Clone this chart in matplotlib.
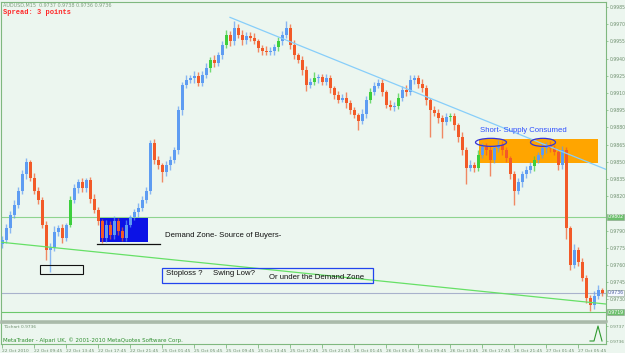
import matplotlib
matplotlib.use("Agg")
import matplotlib.pyplot as plt
from matplotlib.patches import Rectangle, Ellipse

# AUDUSD M15 closes (one value per 4 px column)
closes = [
    0.9782, 0.9792, 0.9804, 0.9812, 0.9825, 0.9839, 0.9850, 0.9836, 0.9825, 0.9817,
    0.9795, 0.9773, 0.9775, 0.9789, 0.9792, 0.9784, 0.9795, 0.9817, 0.9827, 0.9832,
    0.9827, 0.9834, 0.9818, 0.9808, 0.9798, 0.9784, 0.9795, 0.9786, 0.9798, 0.9790,
    0.9784, 0.9795, 0.9802, 0.9806, 0.9810, 0.9817, 0.9825, 0.9866, 0.9852, 0.9847,
    0.9841, 0.9847, 0.9852, 0.9860, 0.9895, 0.9917, 0.9921, 0.9923, 0.9925, 0.9919,
    0.9926, 0.9932, 0.9939, 0.9936, 0.9943, 0.9952, 0.9961, 0.9955, 0.9967, 0.9961,
    0.9956, 0.9960, 0.9958, 0.9955, 0.9949, 0.9947, 0.9946, 0.9947, 0.9950, 0.9955,
    0.9961, 0.9967, 0.9952, 0.9943, 0.9939, 0.9930, 0.9917, 0.9920, 0.9923, 0.9924,
    0.9920, 0.9923, 0.9914, 0.9908, 0.9904, 0.9906, 0.9901, 0.9895, 0.9891, 0.9886,
    0.9892, 0.9904, 0.9911, 0.9916, 0.9919, 0.9911, 0.9900, 0.9898, 0.9899, 0.9906,
    0.9913, 0.9911, 0.9921, 0.9923, 0.9918, 0.9914, 0.9904, 0.9895, 0.9893, 0.9888,
    0.9885, 0.9889, 0.9890, 0.9882, 0.9872, 0.9860, 0.9845, 0.9847, 0.9845, 0.9856,
    0.9863, 0.9860, 0.9852, 0.9862, 0.9865, 0.9860, 0.9853, 0.9839, 0.9825, 0.9832,
    0.9839, 0.9843, 0.9846, 0.9852, 0.9856, 0.9862, 0.9864, 0.9862, 0.9859, 0.9847,
    0.9860, 0.9792, 0.9760, 0.9773, 0.9763, 0.9749, 0.9731, 0.9725, 0.9733, 0.9738,
    0.9736,
]
first_open = 0.9778

# wick lengths in pips above / below the body
wick_up = [
    3, 4, 3, 5, 3, 4, 3, 2, 4, 3, 2, 3, 4, 5, 3, 4, 2, 3, 4, 3,
    4, 2, 3, 4, 3, 2, 4, 3, 5, 3, 3, 4, 2, 3, 4, 3, 3, 3, 4, 3,
    2, 4, 3, 3, 4, 3, 5, 3, 4, 3, 3, 4, 2, 4, 3, 3, 4, 3, 6, 3,
    4, 3, 3, 4, 2, 3, 4, 3, 3, 4, 3, 6, 3, 4, 2, 3, 4, 3, 5, 3,
    3, 4, 3, 2, 4, 3, 5, 3, 3, 2, 4, 3, 3, 4, 3, 3, 2, 4, 3, 4,
    3, 4, 5, 3, 3, 4, 3, 2, 4, 3, 3, 4, 3, 3, 2, 4, 3, 5, 3, 4,
    3, 3, 4, 3, 4, 3, 3, 2, 3, 4, 3, 3, 4, 3, 3, 4, 3, 4, 3, 2,
    4, 3, 2, 5, 3, 3, 2, 3, 4, 5, 2,
]
wick_dn = [
    3, 3, 4, 3, 2, 3, 4, 3, 3, 4, 3, 9, 19, 3, 4, 5, 3, 2, 3, 4,
    3, 3, 4, 3, 3, 5, 4, 3, 3, 4, 3, 3, 2, 3, 4, 3, 3, 3, 4, 3,
    9, 3, 4, 3, 3, 4, 3, 2, 4, 3, 3, 3, 4, 3, 2, 3, 3, 4, 3, 3,
    4, 3, 3, 2, 3, 4, 3, 3, 4, 3, 3, 3, 4, 3, 3, 4, 5, 3, 3, 4,
    3, 3, 4, 3, 3, 2, 4, 3, 3, 8, 3, 4, 3, 3, 2, 4, 3, 3, 4, 3,
    3, 4, 3, 3, 4, 3, 4, 23, 3, 4, 14, 3, 3, 4, 5, 4, 14, 3, 4, 3,
    3, 4, 14, 3, 3, 4, 3, 4, 13, 3, 4, 3, 3, 4, 3, 3, 4, 3, 3, 4,
    3, 9, 4, 3, 4, 3, 4, 5, 3, 3, 3,
]
green_bars = [17, 52, 56, 69, 78, 92, 99, 112, 119, 133]

time_labels = [
    "22 Oct 2010", "22 Oct 09:45", "22 Oct 13:45", "22 Oct 17:45", "22 Oct 21:45",
    "25 Oct 01:45", "25 Oct 05:45", "25 Oct 09:45", "25 Oct 13:45", "25 Oct 17:45",
    "25 Oct 21:45", "26 Oct 01:45", "26 Oct 05:45", "26 Oct 09:45", "26 Oct 13:45",
    "26 Oct 17:45", "26 Oct 21:45", "27 Oct 01:45", "27 Oct 05:45",
]
price_ticks = [0.9985, 0.9970, 0.9955, 0.9940, 0.9925, 0.9910, 0.9895, 0.9880, 0.9865,
               0.9850, 0.9835, 0.9820, 0.9790, 0.9775, 0.9760, 0.9745, 0.9730]

# T1chart sub window
t1_bars = [147, 148, 149, 150]
t1_values = [0.9736, 0.9736, 0.9737, 0.9736]

demand_level = 0.9802
bid_level = 0.9736
low_level = 0.9719

BG = "#ecf6ef"
FRAME = "#7fb87f"
W, H = 625, 353


def px_rect(x0, y0, x1, y1):
    return [x0 / W, 1 - y1 / H, (x1 - x0) / W, (y1 - y0) / H]


fig = plt.figure(figsize=(W / 100, H / 100), dpi=100)
fig.patch.set_facecolor(BG)
ax = fig.add_axes(px_rect(1, 2, 606, 321))
sub = fig.add_axes(px_rect(1, 323, 606, 344))
for a in (ax, sub):
    a.set_facecolor(BG)
    for s in a.spines.values():
        s.set_color(FRAME)
        s.set_linewidth(0.8)
ax.spines["bottom"].set_color("#a9b9a9")
ax.spines["bottom"].set_linewidth(1.8)
sub.spines["top"].set_color("#a9b9a9")
sub.spines["top"].set_linewidth(1.2)

n = len(closes)
xs = list(range(n))
opens = [first_open] + closes[:-1]
pip = 0.0001

# price bars
for i in xs:
    o, c = opens[i], closes[i]
    if i in green_bars:
        col = "#3ccf3c"
    elif c >= o:
        col = "#5e9cf2"
    else:
        col = "#f25a28"
    hi = max(o, c) + wick_up[i] * pip
    lo = min(o, c) - wick_dn[i] * pip
    ax.vlines(i, lo, hi, color=col, lw=1.0, alpha=0.7, zorder=3)
    ax.bar(i, max(abs(c - o), 0.00006), bottom=min(o, c), width=0.75,
           color=col, linewidth=0, zorder=4)

# horizontal levels
ax.axhline(demand_level, color="#8fd48f", lw=0.8, zorder=2)
ax.axhline(bid_level, color="#a9b2cc", lw=0.8, zorder=2)
ax.axhline(low_level, color="#6cc86c", lw=0.8, zorder=2)

# trend lines
ax.plot([-0.5, 151], [0.9780, 0.9726], color="#66e066", lw=0.9, zorder=5)
ax.plot([57, 151.3], [0.9976, 0.9843], color="#87cefa", lw=0.9, zorder=5)

# zones
ax.add_patch(Rectangle((24.5, 0.97801), 12, 0.00209, facecolor="#0b12e6",
                       edgecolor="none", zorder=2))
ax.plot([23.75, 39.5], [0.97783, 0.97783], color="#111111", lw=0.9, zorder=5)
ax.add_patch(Rectangle((9.5, 0.9752), 10.75, 0.0008, facecolor="none",
                       edgecolor="#111111", lw=0.8, zorder=5))
ax.add_patch(Rectangle((119.25, 0.9849), 29.75, 0.0021, facecolor="#ffa500",
                       edgecolor="none", zorder=2))
ax.add_patch(Ellipse((122.25, 0.9867), 7.75, 0.0007, facecolor="none",
                     edgecolor="#3434d8", lw=0.9, zorder=6))
ax.add_patch(Ellipse((135.25, 0.9867), 6.25, 0.0007, facecolor="none",
                     edgecolor="#3434d8", lw=0.9, zorder=6))
ax.add_patch(Rectangle((40, 0.97443), 52.75, 0.00131, facecolor="none",
                       edgecolor="#2244ee", lw=0.9, zorder=6))

font = "Liberation Sans"
ax.text(119.5, 0.9877, "Short- Supply Consumed", color="#3050ff", fontsize=5.6,
        family=font, va="center", zorder=7)
ax.text(40.75, 0.97862, "Demand Zone- Source of Buyers-", color="#111111",
        fontsize=5.6, family=font, va="center", zorder=7)
ax.text(41, 0.9753, "Stoploss ?", color="#111111", fontsize=5.6, family=font,
        va="center", zorder=7)
ax.text(52.75, 0.9753, "Swing Low?", color="#111111", fontsize=5.6, family=font,
        va="center", zorder=7)
ax.text(66.75, 0.97495, "Or under the Demand Zone", color="#111111", fontsize=5.6,
        family=font, va="center", zorder=7)

ax.set_xlim(-0.25, 151)
ax.set_ylim(0.97112, 0.99894)
ax.set_xticks([])
ax.yaxis.tick_right()
ax.set_yticks(price_ticks)
ax.set_yticklabels([f"{p:.4f}" for p in price_ticks])
ax.tick_params(axis="y", labelsize=3.3, colors=FRAME, labelcolor="#6f8f6f",
               length=1.5, width=0.5, pad=1)

# highlighted price labels on the scale
ytr = ax.get_yaxis_transform()
for lvl, fc, tc in [(demand_level, "#6cbf6c", "white"),
                    (bid_level, "#f4f8ff", "#5060a0"),
                    (low_level, "#6cbf6c", "white")]:
    ax.text(1.003, lvl, f"{lvl:.4f}", transform=ytr, fontsize=3.3, color=tc,
            va="center", ha="left", clip_on=False,
            bbox=dict(boxstyle="square,pad=0.12", fc=fc, ec="#8aa08a", lw=0.4))

# sub window
sub.plot(t1_bars, t1_values, color="#2f9a2f", lw=0.8)
sub.set_xlim(-0.25, 151)
sub.set_ylim(0.97358, 0.97372)
sub.yaxis.tick_right()
sub.set_yticks([0.9736, 0.9737])
sub.set_yticklabels(["0.9736", "0.9737"])
sub.tick_params(axis="y", labelsize=3.2, colors=FRAME, labelcolor="#6f8f6f",
                length=1.5, width=0.5, pad=1)
sub.set_xticks(list(range(0, 145, 8)))
sub.set_xticklabels(time_labels, ha="left")
sub.tick_params(axis="x", labelsize=3.2, colors=FRAME, labelcolor="#6f8f6f",
                length=3, width=0.6, pad=0.5)

# header and footer texts
fig.text(3 / W, 1 - 5 / H, "AUDUSD,M15  0.9737 0.9738 0.9736 0.9736", fontsize=3.5,
         color="#7f9f7f", va="center", ha="left")
fig.text(3 / W, 1 - 12 / H, "Spread: 3 points", fontsize=5, color="#ff2a2a",
         family="Liberation Mono", weight="bold", va="center", ha="left")
fig.text(3 / W, 1 - 327 / H, "T1chart 0.9736", fontsize=3.2, color="#6f8f6f",
         va="center", ha="left")
fig.text(3 / W, 1 - 340 / H,
         "MetaTrader - Alpari UK, \u00a9 2001-2010 MetaQuotes Software Corp.",
         fontsize=4, color="#2f8f2f", va="center", ha="left")

fig.savefig("out.png", dpi=100, facecolor=BG)
